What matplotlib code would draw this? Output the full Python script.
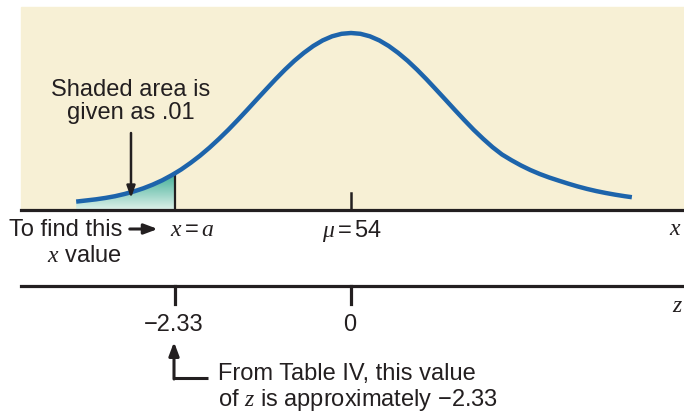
import matplotlib.pyplot as plt
import numpy as np
from matplotlib.patches import Rectangle
from matplotlib.colors import LinearSegmentedColormap

plt.rcParams['font.family'] = ['Liberation Sans', 'DejaVu Sans']
plt.rcParams['mathtext.fontset'] = 'custom'
plt.rcParams['mathtext.rm'] = 'Liberation Sans'
plt.rcParams['mathtext.it'] = 'Liberation Serif:italic'

# curve (z position, height above the x axis)
curve_z = [-3.64, -3.5, -3.375, -3.25, -3.125, -3.0, -2.875, -2.75, -2.625, -2.5,
           -2.375, -2.33, -2.25, -2.125, -2.0, -1.875, -1.75, -1.625, -1.5, -1.375,
           -1.25, -1.125, -1.0, -0.875, -0.75, -0.625, -0.5, -0.375, -0.25, -0.125,
           0.0, 0.125, 0.25, 0.375, 0.5, 0.625, 0.75, 0.875, 1.0, 1.125,
           1.25, 1.375, 1.5, 1.625, 1.75, 1.875, 2.0, 2.125, 2.25, 2.375,
           2.5, 2.625, 2.75, 2.875, 3.0, 3.125, 3.25, 3.375, 3.5, 3.625, 3.72]
curve_h = [8.4, 9.6, 10.7, 12.1, 13.8, 16.0, 18.6, 21.7, 25.4, 29.7,
           34.8, 36.8, 40.5, 47.1, 54.3, 62.3, 71.0, 80.2, 90.0, 100.1,
           110.4, 120.6, 130.7, 140.3, 149.2, 157.1, 164.0, 169.6, 173.7, 176.2,
           177.0, 176.2, 173.7, 169.6, 164.0, 157.1, 149.2, 140.3, 130.7, 120.6,
           110.4, 100.1, 90.0, 80.2, 71.2, 62.8, 55.5, 49.8, 44.6, 40.0,
           36.0, 32.5, 29.4, 26.4, 23.6, 21.1, 18.9, 17.0, 15.3, 13.8, 12.8]

z_ticks = [-2.33, 0]
z_labels = ['\u22122.33', '0']
x_labels = [r'$x = a$', r'$\mu = 54$']
z_cut = -2.33

ink = '#231f20'
beige = '#f7f0d5'
blue = '#1d64ab'

fig = plt.figure(figsize=(6.84, 4.19), dpi=100)
ax = fig.add_axes([0, 0, 1, 1])
ax.axis('off')

left, right = -330 / 75.5, 333 / 75.5
ax.add_patch(Rectangle((left, 0), right - left, 203, color=beige, zorder=0))

# shaded tail with a vertical gradient
cz = np.array(curve_z)
ch = np.array(curve_h)
mask = cz <= z_cut
poly = ax.fill_between(cz[mask], 0, ch[mask], color='none', lw=0)
grad = np.linspace(0, 1, 100).reshape(-1, 1)
cmap = LinearSegmentedColormap.from_list('tail', ['#def1ea', '#3fae96'])
img = ax.imshow(grad, extent=[cz[0], z_cut, 0, ch[mask][-1]], origin='lower',
                aspect='auto', cmap=cmap, zorder=1)
img.set_clip_path(poly.get_paths()[0], transform=ax.transData)
ax.set_xlim(-351 / 75.5, 333 / 75.5)
ax.set_ylim(-209, 210)

ax.plot(curve_z, curve_h, color=blue, lw=3.2, solid_capstyle='butt',
        solid_joinstyle='round', zorder=3)

# x axis and z axis
ax.plot([left, right], [0, 0], color=ink, lw=2.3, zorder=4)
ax.plot([left, right], [-76, -76], color=ink, lw=2.3, zorder=4)
ax.plot([z_cut, z_cut], [0, ch[mask][-1]], color=ink, lw=1.6, zorder=2)
ax.plot([0, 0], [0, 17], color=ink, lw=1.8, zorder=4)
for zt in z_ticks:
    ax.plot([zt, zt], [-76, -94], color=ink, lw=2.3)

fs = 17
for zt, lab in zip(z_ticks, z_labels):
    ax.text(zt - 0.02, -121, lab, ha='center', va='baseline', fontsize=fs, color=ink)
ax.text(-2.11, -26, x_labels[0], ha='center', va='baseline', fontsize=fs, color=ink)
ax.text(0.02, -27, x_labels[1], ha='center', va='baseline', fontsize=fs, color=ink)
ax.text(4.3, -25, r'$x$', ha='center', va='baseline', fontsize=fs, color=ink)
ax.text(4.32, -102, r'$z$', ha='center', va='baseline', fontsize=fs, color=ink)

# shaded area note
ax.text(-2.914, 114.3, 'Shaded area is', ha='center', va='baseline', fontsize=fs, color=ink)
ax.text(-2.914, 90.7, 'given as .01', ha='center', va='baseline', fontsize=fs, color=ink)
ax.annotate('', xy=(-2.914, 12), xytext=(-2.914, 77),
            arrowprops=dict(arrowstyle='-|>,head_width=0.25,head_length=0.7',
                            lw=1.8, color=ink, shrinkA=0, shrinkB=0), zorder=5)

# to find this x value
ax.text(-4.53, -26, 'To find this', ha='left', va='baseline', fontsize=fs, color=ink)
ax.text(-3.525, -52, r'$x$ value', ha='center', va='baseline', fontsize=fs, color=ink)
ax.annotate('', xy=(-2.56, -19), xytext=(-2.93, -19),
            arrowprops=dict(arrowstyle='-|>,head_width=0.3,head_length=0.8',
                            lw=2.2, color=ink, shrinkA=0, shrinkB=0))

# table note
zl = -177 / 75.5
ax.plot([zl, -143 / 75.5], [-168, -168], color=ink, lw=2.2, solid_capstyle='butt')
ax.annotate('', xy=(zl, -132), xytext=(zl, -169),
            arrowprops=dict(arrowstyle='-|>,head_width=0.3,head_length=0.8',
                            lw=2.2, color=ink, shrinkA=0, shrinkB=0))
ax.text(-133 / 75.5, -170, 'From Table IV, this value', ha='left', va='baseline',
        fontsize=fs, color=ink)
ax.text(-133 / 75.5, -196, 'of $z$ is approximately \u22122.33', ha='left',
        va='baseline', fontsize=fs, color=ink)

fig.savefig('out.png', dpi=100)
